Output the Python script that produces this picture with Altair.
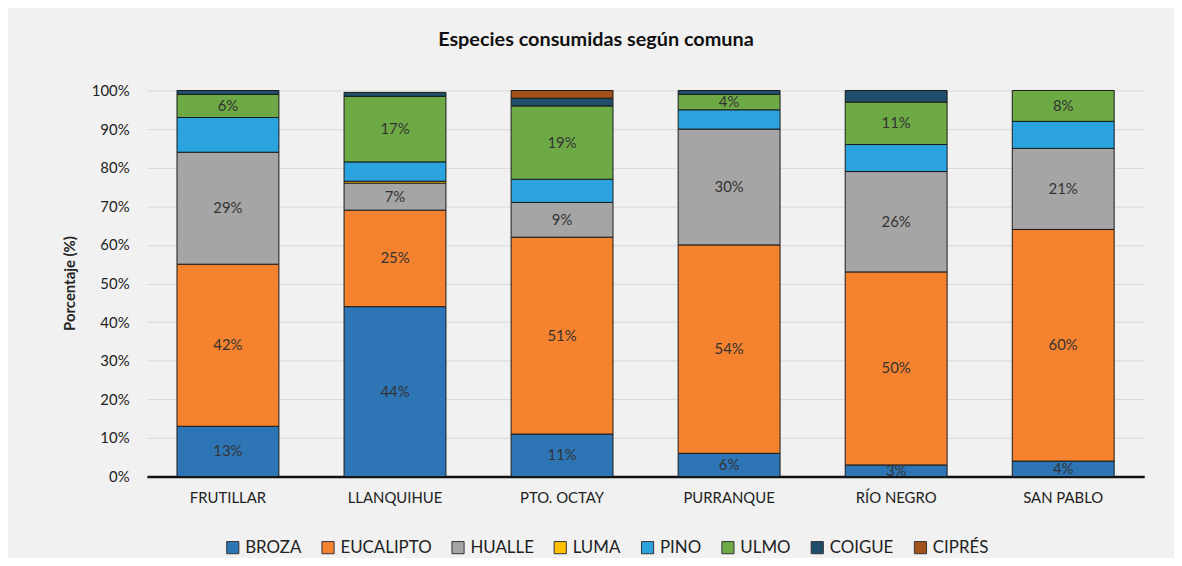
import altair as alt
import pandas as pd

comunas = ["FRUTILLAR", "LLANQUIHUE", "PTO. OCTAY", "PURRANQUE", "RÍO NEGRO", "SAN PABLO"]
especies = ["BROZA", "EUCALIPTO", "HUALLE", "LUMA", "PINO", "ULMO", "COIGUE", "CIPRÉS"]
colores = ["#2E75B6", "#F5822F", "#A5A5A5", "#FFC000", "#2AA3DE", "#6DAA45", "#1E4E6C", "#A3511D"]

broza = [13, 44, 11, 6, 3, 4]
eucalipto = [42, 25, 51, 54, 50, 60]
hualle = [29, 7, 9, 30, 26, 21]
luma = [0, 0.5, 0, 0, 0, 0]
pino = [9, 5, 6, 5, 7, 7]
ulmo = [6, 17, 19, 4, 11, 8]
coigue = [1, 1, 2, 1, 3, 0]
cipres = [0, 0, 2, 0, 0, 0]

etiquetadas = ["BROZA", "EUCALIPTO", "HUALLE", "ULMO"]
y_ticks = [0, 10, 20, 30, 40, 50, 60, 70, 80, 90, 100]

series = [broza, eucalipto, hualle, luma, pino, ulmo, coigue, cipres]
rows = []
for k, (esp, vals) in enumerate(zip(especies, series)):
    for c, v in zip(comunas, vals):
        rows.append({"comuna": c, "especie": esp, "valor": v, "orden": k})
df = pd.DataFrame(rows)

FONT = "Lato"

base = alt.Chart(df).transform_filter("datum.valor > 0")

x_enc = alt.X(
    "comuna:N",
    sort=comunas,
    title=None,
    scale=alt.Scale(paddingInner=0.39, paddingOuter=0.18),
    axis=alt.Axis(
        labelFontSize=15, labelColor="#222", labelFont=FONT, labelAngle=0,
        ticks=False, domainColor="#111", domainWidth=2.5, labelPadding=14, grid=False,
    ),
)

y_scale = alt.Scale(domain=[0, 100], nice=False)
y_axis = alt.Axis(
    values=y_ticks, labelExpr="datum.value + '%'", labelOverlap=False,
    labelFontSize=15, labelColor="#222", labelFont=FONT, labelPadding=18,
    ticks=False, domain=False, gridColor="#D8D8D8", gridWidth=1,
    titleFontSize=15, titleFont=FONT, titleFontWeight="bold", titleColor="#222",
    titleAngle=270, titleX=-78, titleY=194, titleAlign="center", titleBaseline="middle",
)

bars = base.mark_bar(stroke="#1a1a1a", strokeWidth=1).encode(
    x=x_enc,
    y=alt.Y("valor:Q", stack="zero", scale=y_scale, title="Porcentaje (%)", axis=y_axis),
    color=alt.Color(
        "especie:N",
        sort=especies,
        scale=alt.Scale(domain=especies, range=colores),
        legend=alt.Legend(
            title=None, orient="none", direction="horizontal", columns=8,
            legendX=78, legendY=452, symbolType="square", symbolSize=150,
            symbolStrokeColor="#333", symbolStrokeWidth=1, symbolOpacity=1,
            labelFontSize=17, labelFont=FONT, labelColor="#222",
            columnPadding=18, labelOffset=4,
        ),
    ),
    order=alt.Order("orden:Q"),
)

labels = base.transform_stack(
    stack="valor", groupby=["comuna"], as_=["y0", "y1"], sort=[alt.SortField("orden", order="ascending")]
).transform_calculate(
    mid="(datum.y0 + datum.y1) / 2", txt="datum.valor + '%'"
).transform_filter(
    alt.FieldOneOfPredicate(field="especie", oneOf=etiquetadas)
).mark_text(fontSize=15, font=FONT, color="#333").encode(
    x=alt.X("comuna:N", sort=comunas),
    y=alt.Y("mid:Q", scale=y_scale, title="Porcentaje (%)", axis=y_axis),
    text="txt:N",
)

chart = alt.layer(bars, labels).properties(
    width=1005,
    height=389,
    title=alt.TitleParams(
        "Especies consumidas según comuna", fontSize=20, font=FONT, fontWeight="bold",
        color="#111", anchor="middle", offset=34, dx=-50,
    ),
    background="#F1F1F1",
    autosize=alt.AutoSizeParams(type="none"),
    padding={"left": 140, "top": 81, "right": 30, "bottom": 80},
).configure_view(stroke=None)

chart.save("out.html", embed_options={"renderer": "svg", "actions": False})
